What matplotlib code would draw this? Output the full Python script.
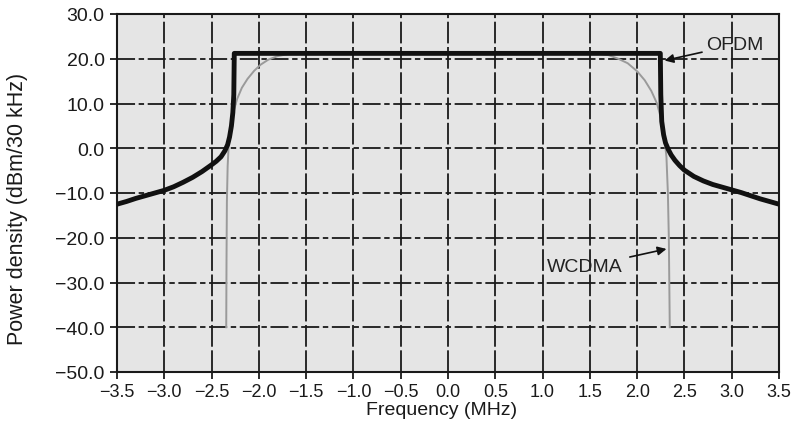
import numpy as np
import matplotlib
matplotlib.use("Agg")
from matplotlib import pyplot as plt

plt.rcParams['font.family'] = ['Liberation Sans', 'DejaVu Sans']

# OFDM spectrum
ofdm_f = [-3.5, -3.4, -3.3, -3.2, -3.1, -3.0, -2.9, -2.8, -2.7, -2.6, -2.5, -2.45, -2.4,
          -2.36, -2.33, -2.31, -2.29, -2.275, -2.265, -2.26,
          2.245, 2.25, 2.26, 2.28, 2.30, 2.33, 2.36, 2.4, 2.45, 2.5, 2.6, 2.7, 2.8, 2.9,
          3.0, 3.1, 3.2, 3.3, 3.4, 3.5]
ofdm_p = [-12.5, -11.9, -11.2, -10.6, -10.0, -9.4, -8.6, -7.6, -6.5, -5.2, -3.7, -2.9, -1.9,
          -0.6, 0.8, 2.5, 5.0, 8.0, 12.0, 21.2,
          21.2, 12.0, 6.0, 3.0, 1.2, -0.3, -1.5, -2.7, -3.9, -4.9, -6.3, -7.3, -8.1, -8.7,
          -9.3, -9.9, -10.6, -11.3, -11.9, -12.5]

# WCDMA spectrum
wcdma_f = [-2.345, -2.342, -2.338, -2.33, -2.32, -2.30, -2.27, -2.23, -2.18, -2.12, -2.05,
           -1.98, -1.9, -1.8, -1.7, -1.6,
           1.6, 1.7, 1.8, 1.9, 2.0, 2.08, 2.15, 2.21, 2.26, 2.29, 2.31, 2.325, 2.335, 2.345]
wcdma_p = [-40.0, -25.0, -12.0, -4.0, 0.5, 4.0, 8.0, 11.0, 13.5, 15.5, 17.3,
           18.7, 19.8, 20.6, 21.0, 21.1,
           21.1, 20.8, 20.0, 19.0, 17.2, 15.2, 12.8, 10.0, 6.0, 2.0, -2.0, -10.0, -20.0, -40.0]

xticks = np.arange(-3.5, 3.51, 0.5)
yticks = np.arange(-50, 30.1, 10)


def fmt(v):
    s = '%.1f' % abs(v)
    return '\u2212' + s if v < -1e-9 else s


fig = plt.figure(figsize=(7.94, 4.35), dpi=100)
ax = fig.add_axes([117/794, 1 - 373/435, 662/794, 358/435])
ax.set_facecolor('#e5e5e5')

# grid
for x in xticks[1:-1]:
    ax.axvline(x, color='#1a1a1a', lw=1.3, dashes=(12, 2), zorder=1)
for y in yticks[1:-1]:
    ax.axhline(y, color='#1a1a1a', lw=1.3, dashes=(10, 2, 3, 2), zorder=1)

ax.plot(wcdma_f, wcdma_p, color='#9a9a9a', lw=1.4, zorder=3)
ax.plot(ofdm_f, ofdm_p, color='#111111', lw=3.5, solid_joinstyle='round', zorder=4)

ax.annotate('OFDM', xy=(2.29, 19.6), xytext=(2.73, 23.1), fontsize=14, color='#222222',
            va='center', ha='left',
            arrowprops=dict(arrowstyle='-|>', color='#111111', lw=1.2, mutation_scale=13,
                            shrinkA=1, shrinkB=0))
ax.annotate('WCDMA', xy=(2.31, -22.5), xytext=(1.85, -26.5), fontsize=14, color='#222222',
            va='center', ha='right',
            arrowprops=dict(arrowstyle='-|>', color='#111111', lw=1.2, mutation_scale=13,
                            shrinkA=3, shrinkB=0))

ax.set_xlim(-3.5, 3.5)
ax.set_ylim(-50, 30)
ax.set_xticks(xticks)
ax.set_yticks(yticks)
ax.set_xticklabels([fmt(v) for v in xticks])
ax.set_yticklabels([fmt(v) for v in yticks])
ax.tick_params(direction='out', length=5, width=1.3, colors='#1a1a1a')
ax.tick_params(axis='x', labelsize=13, pad=3)
ax.tick_params(axis='y', labelsize=14, pad=4)
for s in ax.spines.values():
    s.set_linewidth(1.5)
    s.set_color('#1a1a1a')

ax.set_xlabel('Frequency (MHz)', fontsize=14, va='center', color='#1a1a1a')
ax.xaxis.set_label_coords(0.491, -0.106)
ax.set_ylabel('Power density (dBm/30 kHz)', fontsize=15.5, va='center', color='#1a1a1a')
ax.yaxis.set_label_coords(-0.150, 0.458)

fig.savefig('out.png', dpi=100)
